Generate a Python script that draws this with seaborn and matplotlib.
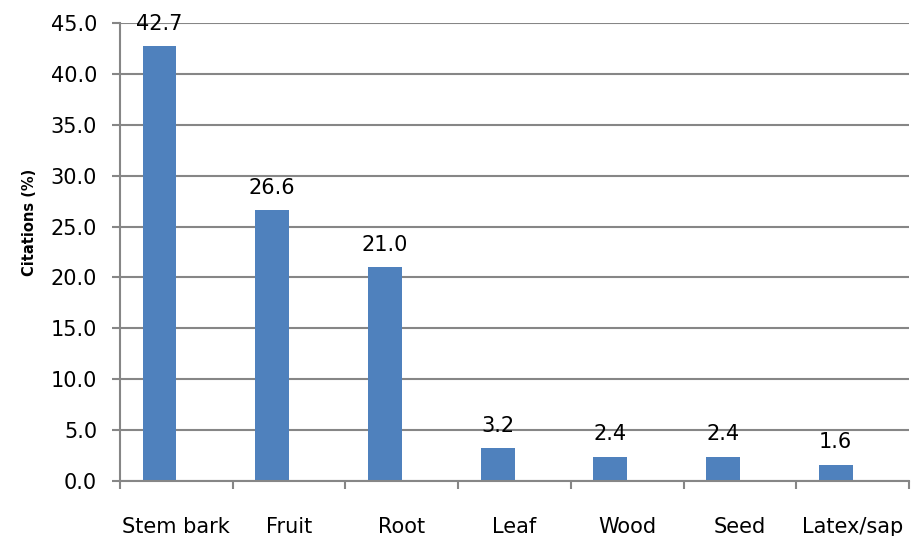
import matplotlib
matplotlib.use("Agg")
import matplotlib.pyplot as plt
import seaborn as sns
import pandas as pd
import numpy as np

categories = ["Stem bark", "Fruit", "Root", "Leaf", "Wood", "Seed", "Latex/sap"]
citations = [42.7, 26.6, 21.0, 3.2, 2.4, 2.4, 1.6]
yticks = [0, 5, 10, 15, 20, 25, 30, 35, 40, 45]

sns.set_theme(style="white")
plt.rcParams["font.family"] = ["DejaVu Sans"]

# Excel-style chart with an (empty) second series that shifts the bars left
df = pd.DataFrame({
    "part": categories * 2,
    "value": citations + [0.0] * len(categories),
    "series": ["Citations"] * len(categories) + ["empty"] * len(categories),
})

fig = plt.figure(figsize=(9.11, 5.36), dpi=100)
ax = fig.add_axes([120 / 911, 1 - 481 / 536, (909 - 120) / 911, (481 - 23) / 536])

sns.barplot(data=df, x="part", y="value", hue="series", order=categories,
            palette=["#4F81BD", "#C0504D"], width=0.6, dodge=True,
            errorbar=None, legend=False, ax=ax, linewidth=0, saturation=1)

ax.bar_label(ax.containers[0], labels=[f"{v:.1f}" for v in citations],
             fontsize=15, padding=9, color="black")

ax.set_ylim(0, 45)
ax.set_xlim(-0.5, len(categories) - 0.5)
ax.set_yticks(yticks)
ax.set_yticklabels([f"{t:.1f}" for t in yticks], fontsize=15)
ax.yaxis.grid(True, color="#868686", linewidth=1.5)
ax.set_axisbelow(True)

ax.set_xticks(range(len(categories)))
ax.set_xticklabels(categories, fontsize=15)
ax.tick_params(axis="x", length=0, pad=26)
ax.set_xticks(np.arange(len(categories) + 1) - 0.5, minor=True)
ax.tick_params(axis="x", which="minor", length=5.5, width=1.5, color="#868686",
               direction="out", bottom=True)
ax.tick_params(axis="y", length=6, width=1.5, color="#868686", direction="out",
               left=True, pad=10.5, labelcolor="black")
ax.tick_params(axis="x", labelcolor="black")

for side in ["top", "right"]:
    ax.spines[side].set_visible(False)
for side in ["left", "bottom"]:
    ax.spines[side].set_color("#868686")
    ax.spines[side].set_linewidth(1.5)

ax.set_xlabel("")
ax.set_ylabel("Citations (%)", fontsize=10.5, fontweight="bold", color="black")
ax.yaxis.set_label_coords(-0.105, 0.5655)

fig.savefig("out.png", dpi=100)
